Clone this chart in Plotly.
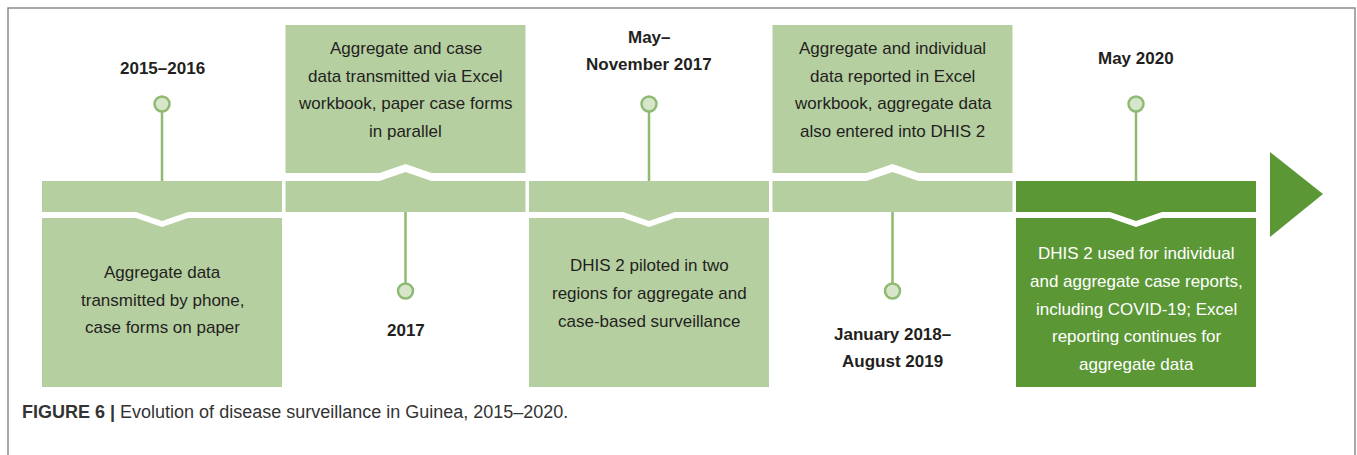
import plotly.graph_objects as go

# ---- data ----
periods = ["2015–2016", "2017", "May–<br>November 2017", "January 2018–<br>August 2019", "May 2020"]
descriptions = [
    "Aggregate data<br>transmitted by phone,<br>case forms on paper",
    "Aggregate and case<br>data transmitted via Excel<br>workbook, paper case forms<br>in parallel",
    "DHIS 2 piloted in two<br>regions for aggregate and<br>case-based surveillance",
    "Aggregate and individual<br>data reported in Excel<br>workbook, aggregate data<br>also entered into DHIS 2",
    "DHIS 2 used for individual<br>and aggregate case reports,<br>including COVID-19; Excel<br>reporting continues for<br>aggregate data",
]
placement = ["down", "up", "down", "up", "down"]   # where the description box sits
current = [False, False, False, False, True]
caption_bold = "FIGURE 6 |"
caption_text = "Evolution of disease surveillance in Guinea, 2015–2020."

# ---- layout / style (not data) ----
W, H = 1357, 455
LIGHT = "#b6cfa1"
DARK = "#5b9735"
STEM = "#8fba72"
DOT_FILL = "#d7e5ca"
TEXT = "#231f20"
FONT = "Liberation Sans, Arial, sans-serif"

x_start, seg_w, pitch = 42, 240, 243.5
band_top, band_bot = 181, 212
label_y = [68, 330, 51, 348, 58]     # vertical centre of period label block
text_y = [300, 90, 293.5, 90, 309]    # vertical centre of description block
LINE = 27.6

fig = go.Figure()
shapes, annos = [], []


def add_lines(cx, yc, html, size, color, bold=False):
    lines = html.split("<br>")
    n = len(lines)
    for k, ln in enumerate(lines):
        y = yc + (k - (n - 1) / 2) * LINE
        annos.append(dict(x=cx, y=y, text=f"<b>{ln}</b>" if bold else ln, showarrow=False,
                          xanchor="center", yanchor="middle",
                          font=dict(family=FONT, size=size, color=color)))


for i, (per, desc, pl, cur) in enumerate(zip(periods, descriptions, placement, current)):
    x0 = x_start + i * pitch
    x1 = x0 + seg_w
    cx = (x0 + x1) / 2
    col = DARK if cur else LIGHT
    n = 26
    if pl == "up":
        seg = (f"M {x0},{band_bot} L {x0},{band_top} L {cx-n},{band_top} L {cx},{band_top-9} "
               f"L {cx+n},{band_top} L {x1},{band_top} L {x1},{band_bot} Z")
        box = (f"M {x0},25 L {x1},25 L {x1},173 L {cx+n},173 L {cx},164 L {cx-n},173 L {x0},173 Z")
        sy0, sy1, dot_y = band_bot, 291, 291
    else:
        seg = (f"M {x0},{band_top} L {x1},{band_top} L {x1},{band_bot} L {cx+n},{band_bot} "
               f"L {cx},{band_bot+9} L {cx-n},{band_bot} L {x0},{band_bot} Z")
        box = (f"M {x0},218 L {cx-n},218 L {cx},227 L {cx+n},218 L {x1},218 L {x1},387 L {x0},387 Z")
        sy0, sy1, dot_y = 104, band_top, 104
    shapes.append(dict(type="path", path=seg, fillcolor=col, line=dict(width=0), layer="below"))
    shapes.append(dict(type="path", path=box, fillcolor=col, line=dict(width=0), layer="below"))
    shapes.append(dict(type="line", x0=cx, x1=cx, y0=sy0, y1=sy1,
                       line=dict(color=STEM, width=2.5)))
    r = 7.5
    shapes.append(dict(type="circle", x0=cx - r, x1=cx + r, y0=dot_y - r, y1=dot_y + r,
                       fillcolor=DOT_FILL, line=dict(color=STEM, width=2.5)))
    add_lines(cx, label_y[i], per, 17, TEXT, bold=True)
    add_lines(cx, text_y[i], desc, 17, "white" if cur else TEXT)

# arrow head
shapes.append(dict(type="path", path="M 1270,152 L 1323,194 L 1270,237 Z",
                   fillcolor=DARK, line=dict(width=0)))
# frame
shapes.append(dict(type="rect", x0=8, x1=1355, y0=8, y1=480,
                   line=dict(color="#8c8c8c", width=1.5), fillcolor="rgba(0,0,0,0)"))

annos.append(dict(x=20, y=412, text=f"<b>{caption_bold}</b> {caption_text}", showarrow=False,
                  xanchor="left", yanchor="middle",
                  font=dict(family=FONT, size=18, color="#333333")))

fig.update_layout(
    width=W, height=H, margin=dict(l=0, r=0, t=0, b=0),
    paper_bgcolor="white", plot_bgcolor="white",
    xaxis=dict(range=[0, W], visible=False, fixedrange=True),
    yaxis=dict(range=[H, 0], visible=False, fixedrange=True),
    shapes=shapes, annotations=annos, showlegend=False,
)
fig.write_html("out.html", config=dict(displayModeBar=False),
               post_script="document.body.style.margin='0';document.body.style.overflow='hidden';")
